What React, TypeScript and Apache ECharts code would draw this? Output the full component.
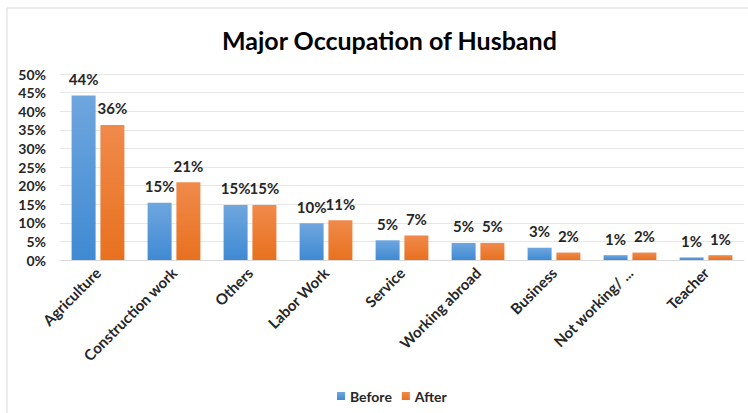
import React, { useEffect, useRef } from "react";
import * as echarts from "echarts";

const categories = [
  "Agriculture",
  "Construction work",
  "Others",
  "Labor Work",
  "Service",
  "Working abroad",
  "Business",
  "Not working/ ...",
  "Teacher",
];
const beforeValues = [44.2, 15.4, 14.8, 9.9, 5.3, 4.6, 3.3, 1.3, 0.7];
const afterValues = [36.3, 20.9, 14.8, 10.7, 6.6, 4.6, 2.0, 2.0, 1.3];
const seriesNames = ["Before", "After"];
const titleText = "Major Occupation of Husband";

const FONT = "Lato";

export default function App() {
  const ref = useRef<HTMLDivElement>(null);
  useEffect(() => {
    const chart = echarts.init(ref.current!, null, { renderer: "svg" });
    const grad = (top: string, bottom: string) =>
      new echarts.graphic.LinearGradient(0, 0, 0, 1, [
        { offset: 0, color: top },
        { offset: 1, color: bottom },
      ]);
    const labelCfg = {
      show: true,
      position: "top" as const,
      distance: 9,
      fontFamily: FONT,
      fontWeight: "bold" as const,
      fontSize: 15,
      color: "#262626",
      formatter: (p: any) => Math.round(p.value) + "%",
    };
    chart.setOption({
      animation: false,
      backgroundColor: "#ffffff",
      graphic: [
        {
          type: "rect",
          shape: { x: 7, y: 8, width: 760, height: 420 },
          style: { fill: "none", stroke: "#d9d9d9", lineWidth: 1 },
          silent: true,
        },
      ],
      title: {
        text: titleText,
        left: 217,
        top: 22,
        textStyle: {
          fontFamily: FONT,
          fontWeight: "bold",
          fontSize: 25,
          color: "#000000",
        },
      },
      legend: {
        data: seriesNames,
        top: 384,
        left: 332,
        itemWidth: 8,
        itemHeight: 8,
        itemGap: 10,
        icon: "rect",
        textStyle: {
          fontFamily: FONT,
          fontWeight: "bold",
          fontSize: 14,
          color: "#262626",
        },
      },
      grid: { left: 60, right: 4, top: 74, bottom: 153, containLabel: false },
      xAxis: {
        type: "category",
        data: categories,
        axisLine: { lineStyle: { color: "#d9d9d9" } },
        axisTick: { show: false },
        axisLabel: {
          rotate: 45,
          interval: 0,
          margin: 10,
          fontFamily: FONT,
          fontWeight: "bold",
          fontSize: 15,
          color: "#262626",
        },
      },
      yAxis: {
        type: "value",
        min: 0,
        max: 50,
        interval: 5,
        axisLine: { show: false },
        axisTick: { show: false },
        splitLine: { lineStyle: { color: "#e6e6e6" } },
        axisLabel: {
          formatter: "{value}%",
          margin: 14,
          fontFamily: FONT,
          fontWeight: "bold",
          fontSize: 14,
          color: "#262626",
        },
      },
      series: [
        {
          name: seriesNames[0],
          type: "bar",
          data: beforeValues,
          barWidth: 24,
          barGap: "20%",
          itemStyle: { color: grad("#6fa6de", "#3f8ad3") },
          label: labelCfg,
        },
        {
          name: seriesNames[1],
          type: "bar",
          data: afterValues,
          barWidth: 24,
          itemStyle: { color: grad("#f08a4b", "#e8711f") },
          label: labelCfg,
        },
      ],
    });
    return () => chart.dispose();
  }, []);
  return (
    <div
      ref={ref}
      style={{ width: 748, height: 413, position: "absolute", left: 0, top: 0 }}
    />
  );
}
